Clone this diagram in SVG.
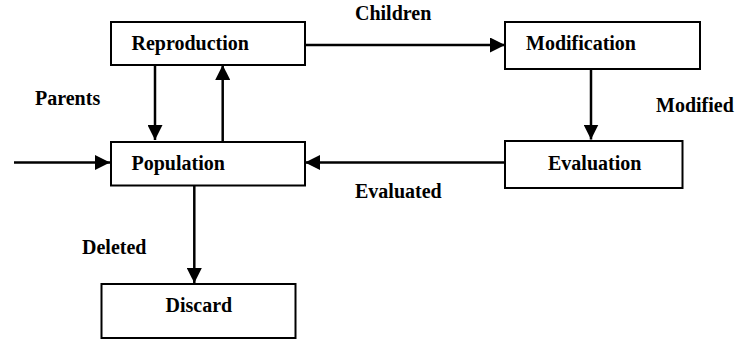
<svg xmlns="http://www.w3.org/2000/svg" width="743" height="339" viewBox="0 0 743 339">
<style>
.box{fill:#fff;stroke:#000;stroke-width:2}
.t{font-family:"Liberation Serif","Times New Roman",serif;font-weight:bold;font-size:20px;fill:#000}
.c{stroke:#000;stroke-width:2.5;fill:none;marker-end:url(#ah)}
</style>
<defs>
<marker id="ah" markerUnits="userSpaceOnUse" markerWidth="15" markerHeight="15" viewBox="0 0 15 15" refX="15" refY="7.5" orient="auto">
<path d="M0,0 L15,7.5 L0,15 z" fill="#000"/>
</marker>
</defs>
<rect width="743" height="339" fill="#fff"/>
<g id="connectors">
<line class="c" x1="14" y1="162.5" x2="110" y2="162.5"/>
<line class="c" x1="155" y1="65" x2="155" y2="140"/>
<line class="c" x1="222.7" y1="141" x2="222.7" y2="65"/>
<line class="c" x1="305" y1="45" x2="505" y2="45"/>
<line class="c" x1="591" y1="69" x2="591" y2="139.5"/>
<line class="c" x1="505" y1="162.5" x2="305" y2="162.5"/>
<line class="c" x1="194.3" y1="186" x2="194.3" y2="283"/>
<text class="t" x="35" y="105">Parents</text>
<text class="t" x="355" y="20">Children</text>
<text class="t" x="656" y="112">Modified</text>
<text class="t" x="355" y="198">Evaluated</text>
<text class="t" x="82" y="254">Deleted</text>
</g>
<g id="reproduction">
<rect class="box" x="111" y="22" width="194" height="43"/>
<text class="t" x="131.5" y="50">Reproduction</text>
</g>
<g id="modification">
<rect class="box" x="505" y="22" width="195" height="47"/>
<text class="t" x="526" y="50">Modification</text>
</g>
<g id="population">
<rect class="box" x="111" y="142" width="194" height="43.5"/>
<text class="t" x="131.5" y="170">Population</text>
</g>
<g id="evaluation">
<rect class="box" x="505" y="141" width="177.5" height="47"/>
<text class="t" x="548" y="170">Evaluation</text>
</g>
<g id="discard">
<rect class="box" x="101.5" y="284" width="194" height="54"/>
<text class="t" x="165.5" y="312">Discard</text>
</g>
</svg>
